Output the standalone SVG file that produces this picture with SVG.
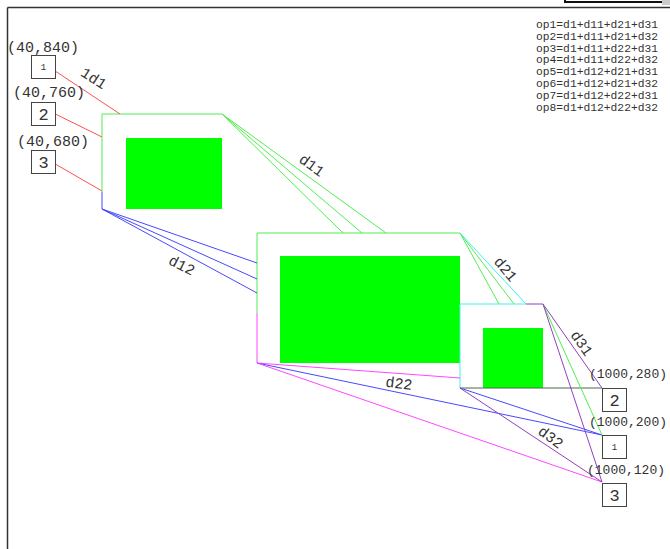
<svg xmlns="http://www.w3.org/2000/svg" width="670" height="549" viewBox="0 0 670 549">
<style>
.bg{fill:#fff}
.frame{stroke:#333;stroke-width:1.5;fill:none}
.node{fill:#fff;stroke:#444;stroke-width:1}
.fill{fill:#00ff00}
.t{font-family:"Liberation Mono",monospace;fill:#333}
.coord{font-size:15px}
.rc{font-size:13px}
.big{font-size:17px}
.small{font-size:9px}
.lab{font-size:15px;text-anchor:middle}
.leg{font-size:11.3px}
.mid{text-anchor:middle}
line,polyline{fill:none;stroke-width:1}
.r{stroke:#ff5050}
.g{stroke:#50ee50}
.b{stroke:#4848ff}
.m{stroke:#ff48ff}
.c{stroke:#40f0f0}
.p{stroke:#9040c0}
.dk{stroke:#4a6a4a}
</style>
<rect class="bg" x="0" y="0" width="670" height="549"/>
<g id="frame">
<line class="frame" x1="7.5" y1="7.5" x2="670" y2="7.5"/>
<line class="frame" x1="7.5" y1="7.5" x2="7.5" y2="549"/>
<rect x="565" y="-6" width="100" height="8" fill="#fff" stroke="#111" stroke-width="2"/>
<rect x="662" y="0" width="8" height="5" fill="#ccc"/>
</g>
<g id="legend">
<text class="t leg" x="536" y="28">op1=d1+d11+d21+d31</text>
<text class="t leg" x="536" y="39.8">op2=d1+d11+d21+d32</text>
<text class="t leg" x="536" y="51.6">op3=d1+d11+d22+d31</text>
<text class="t leg" x="536" y="63.4">op4=d1+d11+d22+d32</text>
<text class="t leg" x="536" y="75.2">op5=d1+d12+d21+d31</text>
<text class="t leg" x="536" y="87">op6=d1+d12+d21+d32</text>
<text class="t leg" x="536" y="98.8">op7=d1+d12+d22+d31</text>
<text class="t leg" x="536" y="110.6">op8=d1+d12+d22+d32</text>
</g>
<g id="stageA">
<rect class="fill" x="126" y="138" width="96" height="71"/>
<polyline class="g" points="222,114 102,114 102,192"/>
<line class="b" x1="102" y1="192" x2="102" y2="209"/>
</g>
<g id="stageB">
<rect class="fill" x="280" y="256" width="180" height="107"/>
<polyline class="g" points="460,233 257,233 257,313"/>
<line class="m" x1="257" y1="313" x2="257" y2="363"/>
</g>
<g id="stageC">
<rect class="fill" x="483" y="328" width="60" height="60"/>
<polyline class="c" points="526,304 460,304 460,388"/>
<line class="p" x1="526" y1="304" x2="543" y2="304"/>
</g>
<g id="connectors">
<line class="r" x1="31" y1="55" x2="120" y2="114"/>
<line class="r" x1="31" y1="102" x2="102" y2="137"/>
<line class="r" x1="31" y1="150" x2="102" y2="191"/>
<line class="g" x1="222" y1="114" x2="343" y2="233"/>
<line class="g" x1="222" y1="114" x2="362" y2="233"/>
<line class="g" x1="222" y1="114" x2="386" y2="233"/>
<line class="b" x1="102" y1="209" x2="257" y2="263"/>
<line class="b" x1="102" y1="209" x2="257" y2="279"/>
<line class="b" x1="102" y1="209" x2="257" y2="293"/>
<line class="g" x1="460" y1="233" x2="499" y2="304"/>
<line class="g" x1="460" y1="233" x2="514" y2="304"/>
<line class="c" x1="460" y1="233" x2="526" y2="304"/>
<line class="m" x1="257" y1="363" x2="460" y2="378"/>
<line class="b" x1="257" y1="363" x2="602" y2="435"/>
<line class="m" x1="257" y1="363" x2="602" y2="482"/>
<line class="dk" x1="460" y1="388" x2="602" y2="388"/>
<line class="b" x1="460" y1="388" x2="602" y2="435"/>
<line class="p" x1="460" y1="388" x2="602" y2="482"/>
<line class="p" x1="543" y1="304" x2="602" y2="388"/>
<line class="g" x1="543" y1="304" x2="602" y2="435"/>
<line class="p" x1="543" y1="304" x2="602" y2="482"/>
</g>
<g id="edge-labels">
<text class="t lab" transform="translate(94,78) rotate(33)" dy="0.35em">1d1</text>
<text class="t lab" transform="translate(312,165) rotate(36)" dy="0.35em">d11</text>
<text class="t lab" transform="translate(182,265) rotate(27)" dy="0.35em">d12</text>
<text class="t lab" transform="translate(506,269) rotate(50)" dy="0.35em">d21</text>
<text class="t lab" transform="translate(582,343) rotate(55)" dy="0.35em">d31</text>
<text class="t lab" transform="translate(399,383) rotate(7)" dy="0.35em">d22</text>
<text class="t lab" transform="translate(551,437) rotate(36)" dy="0.35em">d32</text>
</g>
<g id="src1">
<text class="t coord" x="7" y="52">(40,840)</text>
<rect class="node" x="31.5" y="55.5" width="24" height="23"/>
<text class="t small mid" x="43.5" y="70">1</text>
</g>
<g id="src2">
<text class="t coord" x="13" y="97">(40,760)</text>
<rect class="node" x="31.5" y="102.5" width="24" height="23"/>
<text class="t big mid" x="43.5" y="120">2</text>
</g>
<g id="src3">
<text class="t coord" x="17" y="145.5">(40,680)</text>
<rect class="node" x="31.5" y="150.5" width="24" height="23"/>
<text class="t big mid" x="43.5" y="168">3</text>
</g>
<g id="dst2">
<text class="t rc" x="589" y="378">(1000,280)</text>
<rect class="node" x="602.5" y="388.5" width="24" height="23"/>
<text class="t big mid" x="614.5" y="406">2</text>
</g>
<g id="dst1">
<text class="t rc" x="589" y="426">(1000,200)</text>
<rect class="node" x="602.5" y="435.5" width="24" height="23"/>
<text class="t small mid" x="614.5" y="450">1</text>
</g>
<g id="dst3">
<text class="t rc" x="587" y="474">(1000,120)</text>
<rect class="node" x="602.5" y="483.5" width="24" height="23"/>
<text class="t big mid" x="614.5" y="501">3</text>
</g>
</svg>
